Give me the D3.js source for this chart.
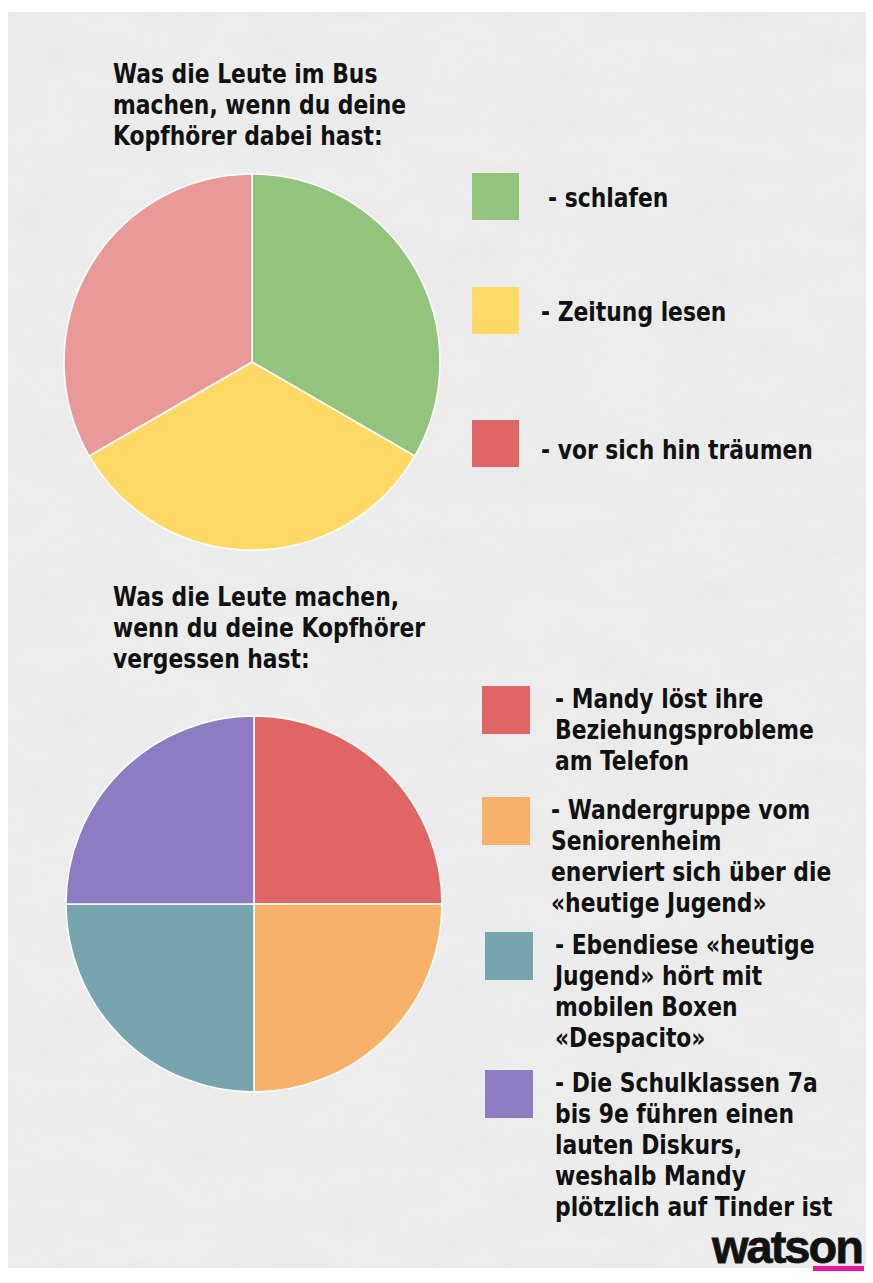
<!DOCTYPE html>
<html>
<head>
<meta charset="utf-8">
<script src="https://cdn.jsdelivr.net/npm/d3@7"></script>
<style>
  html, body { margin: 0; padding: 0; background: #fff; }
  svg { display: block; }
  text { font-family: "DejaVu Sans Condensed", "DejaVu Sans", sans-serif; font-stretch: condensed; font-weight: bold; fill: #111; }
</style>
</head>
<body>
<script>
// chart 1: Kopfhörer dabei
const busTitle = ['Was die Leute im Bus', 'machen, wenn du deine', 'Kopfhörer dabei hast:'];
const busLabels = ['- schlafen', '- Zeitung lesen', '- vor sich hin träumen'];
const busValues = [1, 1, 1];
const busPieColors = ['#93c47d', '#ffd966', '#ea9999'];
const busKeyColors = ['#93c47d', '#ffd966', '#e06666'];

// chart 2: Kopfhörer vergessen
const noTitle = ['Was die Leute machen,', 'wenn du deine Kopfhörer', 'vergessen hast:'];
const noLabels = [
  ['- Mandy löst ihre', 'Beziehungsprobleme', 'am Telefon'],
  ['- Wandergruppe vom', 'Seniorenheim', 'enerviert sich über die', '«heutige Jugend»'],
  ['- Ebendiese «heutige', 'Jugend» hört mit', 'mobilen Boxen', '«Despacito»'],
  ['- Die Schulklassen 7a', 'bis 9e führen einen', 'lauten Diskurs,', 'weshalb Mandy', 'plötzlich auf Tinder ist']
];
const noValues = [1, 1, 1, 1];
const noColors = ['#e06666', '#f6b26b', '#76a5af', '#8e7cc3'];

const W = 873, H = 1283;
const svg = d3.select('body').append('svg')
    .attr('width', W)
    .attr('height', H);

// paper texture
const defs = svg.append('defs');
const f = defs.append('filter').attr('id', 'paper').attr('x', 0).attr('y', 0).attr('width', 1).attr('height', 1);
f.append('feTurbulence').attr('type', 'fractalNoise').attr('baseFrequency', '0.012 0.03').attr('numOctaves', 4).attr('seed', 3);
f.append('feColorMatrix').attr('type', 'matrix')
    .attr('values', '0 0 0 0 0.55  0 0 0 0 0.55  0 0 0 0 0.55  0.35 0 0 0 -0.1');
f.append('feComposite').attr('in2', 'SourceGraphic').attr('operator', 'in');

svg.append('rect').attr('x', 8).attr('y', 12).attr('width', 858).attr('height', 1256).attr('fill', '#ededed');
svg.append('rect').attr('x', 8).attr('y', 12).attr('width', 858).attr('height', 1256).attr('fill', '#ededed')
    .attr('filter', 'url(#paper)').attr('opacity', 0.35);

const fs = 27, lh = 31;
// the original face is narrower than anything installed, squeeze a bit
const sx = 0.9;

function label(g, lines, x, y) {
  g.append('text')
    .attr('transform', 'translate(' + x + ',' + y + ') scale(' + sx + ',1)')
    .style('font-size', fs + 'px')
    .selectAll('tspan').data(lines).join('tspan')
    .attr('x', 0)
    .attr('y', (d, i) => i * lh)
    .text(d => d);
}

function pie(values, colors, cx, cy, r) {
  const arcs = d3.pie().sort(null).value(d => d)(values);
  const arc = d3.arc().innerRadius(0).outerRadius(r);
  svg.append('g')
    .attr('transform', 'translate(' + cx + ',' + cy + ')')
    .selectAll('path').data(arcs).join('path')
    .attr('d', arc)
    .attr('fill', (d, i) => colors[i])
    .attr('stroke', '#fff')
    .attr('stroke-width', 1.5);
}

// top chart
label(svg, busTitle, 113, 83);
pie(busValues, busPieColors, 252, 362, 188);

const busTop = [173, 287, 420];
const busTextX = [548, 541, 541];
const busKey = svg.append('g').selectAll('g').data(busLabels).join('g');
busKey.append('rect')
    .attr('x', 472).attr('y', (d, i) => busTop[i]).attr('width', 47).attr('height', 47)
    .attr('fill', (d, i) => busKeyColors[i]);
busKey.each(function(d, i) {
  label(d3.select(this), [d], busTextX[i], busTop[i] + 34 + (i == 2 ? 5 : 0));
});

// bottom chart
label(svg, noTitle, 113, 606);
pie(noValues, noColors, 254, 904, 188);

const keyTop = [686, 797, 932, 1070];
const keyX = [482, 482, 485, 485];
const textX = [555, 551, 555, 555];
const noKey = svg.append('g').selectAll('g').data(noLabels).join('g');
noKey.append('rect')
    .attr('x', (d, i) => keyX[i]).attr('y', (d, i) => keyTop[i])
    .attr('width', 48).attr('height', 48)
    .attr('fill', (d, i) => noColors[i]);
noKey.each(function(lines, i) {
  label(d3.select(this), lines, textX[i], keyTop[i] + 22);
});

// watson logo
svg.append('text')
    .attr('x', 712).attr('y', 1263)
    .style('font-family', '"Liberation Sans", Arial, sans-serif')
    .style('font-stretch', 'normal')
    .style('font-size', '47px')
    .style('letter-spacing', '-2px')
    .attr('fill', '#1c1c1c')
    .attr('stroke', '#1c1c1c')
    .attr('stroke-width', 0.8)
    .text('watson');
svg.append('rect').attr('x', 813).attr('y', 1266).attr('width', 51).attr('height', 5).attr('fill', '#f0169a');
</script>
</body>
</html>
